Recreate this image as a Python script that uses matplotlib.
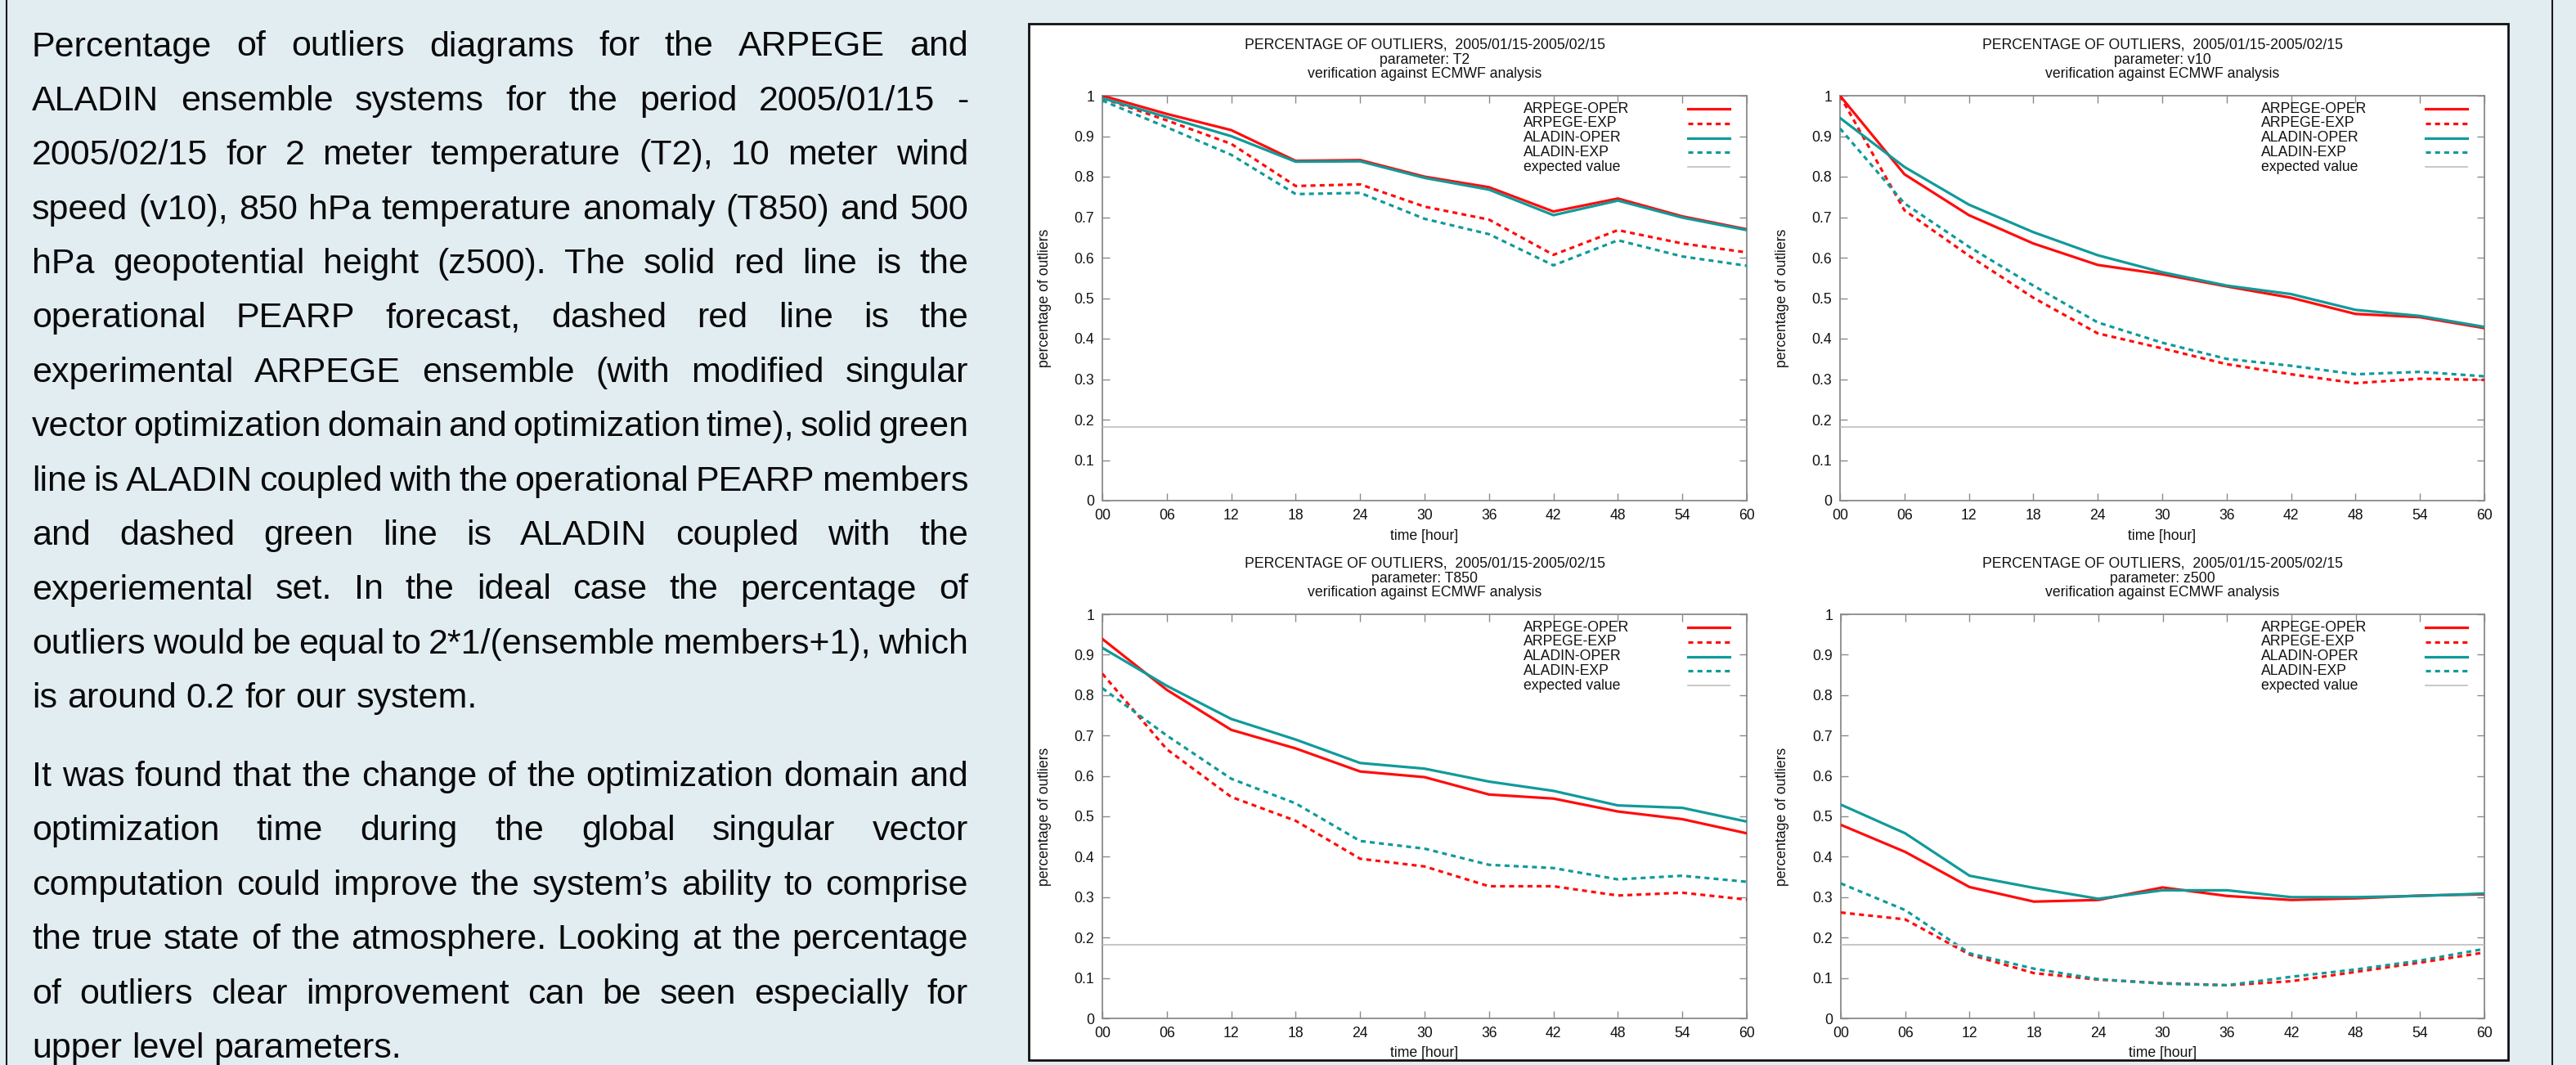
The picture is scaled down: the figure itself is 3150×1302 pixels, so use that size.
import matplotlib
matplotlib.use('Agg')
import matplotlib.pyplot as plt
from matplotlib.patches import Rectangle
from matplotlib.lines import Line2D

# ---------------- data ----------------
hours = [0, 6, 12, 18, 24, 30, 36, 42, 48, 54, 60]
hour_labels = ['00', '06', '12', '18', '24', '30', '36', '42', '48', '54', '60']
y_ticks = [0, 0.1, 0.2, 0.3, 0.4, 0.5, 0.6, 0.7, 0.8, 0.9, 1.0]
y_labels = ['0', '0.1', '0.2', '0.3', '0.4', '0.5', '0.6', '0.7', '0.8', '0.9', '1']
series_names = ['ARPEGE-OPER', 'ARPEGE-EXP', 'ALADIN-OPER', 'ALADIN-EXP']
expected_value = 2.0 / 11.0
parameters = ['T2', 'v10', 'T850', 'z500']

t2_arpege_oper = [1.000, 0.955, 0.915, 0.839, 0.841, 0.800, 0.774, 0.714, 0.746, 0.702, 0.670]
t2_arpege_exp = [0.994, 0.939, 0.881, 0.777, 0.781, 0.726, 0.694, 0.607, 0.668, 0.635, 0.613]
t2_aladin_oper = [0.994, 0.947, 0.900, 0.837, 0.838, 0.797, 0.768, 0.705, 0.741, 0.699, 0.668]
t2_aladin_exp = [0.988, 0.922, 0.854, 0.757, 0.760, 0.696, 0.658, 0.581, 0.643, 0.603, 0.580]

v10_arpege_oper = [1.000, 0.806, 0.705, 0.635, 0.582, 0.559, 0.529, 0.501, 0.461, 0.453, 0.426]
v10_arpege_exp = [1.000, 0.717, 0.605, 0.501, 0.413, 0.376, 0.337, 0.312, 0.290, 0.301, 0.298]
v10_aladin_oper = [0.945, 0.824, 0.731, 0.663, 0.606, 0.564, 0.531, 0.510, 0.471, 0.456, 0.429]
v10_aladin_exp = [0.919, 0.734, 0.627, 0.531, 0.440, 0.390, 0.350, 0.333, 0.312, 0.318, 0.307]

t850_arpege_oper = [0.939, 0.813, 0.714, 0.668, 0.611, 0.597, 0.554, 0.544, 0.512, 0.493, 0.458]
t850_arpege_exp = [0.853, 0.666, 0.548, 0.489, 0.395, 0.376, 0.327, 0.327, 0.304, 0.311, 0.294]
t850_aladin_oper = [0.917, 0.823, 0.741, 0.690, 0.632, 0.618, 0.586, 0.563, 0.527, 0.521, 0.487]
t850_aladin_exp = [0.817, 0.700, 0.593, 0.532, 0.439, 0.420, 0.380, 0.372, 0.344, 0.353, 0.338]

z500_arpege_oper = [0.479, 0.412, 0.325, 0.289, 0.293, 0.324, 0.303, 0.293, 0.297, 0.304, 0.307]
z500_arpege_exp = [0.262, 0.245, 0.158, 0.112, 0.096, 0.087, 0.082, 0.092, 0.115, 0.138, 0.163]
z500_aladin_oper = [0.529, 0.458, 0.353, 0.323, 0.296, 0.317, 0.317, 0.300, 0.300, 0.303, 0.309]
z500_aladin_exp = [0.334, 0.268, 0.161, 0.123, 0.097, 0.086, 0.082, 0.103, 0.121, 0.143, 0.172]

panel_data = {
    'T2': [t2_arpege_oper, t2_arpege_exp, t2_aladin_oper, t2_aladin_exp],
    'v10': [v10_arpege_oper, v10_arpege_exp, v10_aladin_oper, v10_aladin_exp],
    'T850': [t850_arpege_oper, t850_arpege_exp, t850_aladin_oper, t850_aladin_exp],
    'z500': [z500_arpege_oper, z500_arpege_exp, z500_aladin_oper, z500_aladin_exp],
}

title_line1 = 'PERCENTAGE OF OUTLIERS,  2005/01/15-2005/02/15'
title_line3 = 'verification against ECMWF analysis'

para1 = [
    "Percentage of outliers diagrams for the ARPEGE and",
    "ALADIN ensemble systems for the period 2005/01/15 -",
    "2005/02/15 for 2 meter temperature (T2), 10 meter wind",
    "speed (v10), 850 hPa temperature anomaly (T850) and 500",
    "hPa geopotential height (z500). The solid red line is the",
    "operational PEARP forecast, dashed red line is the",
    "experimental ARPEGE ensemble (with modified singular",
    "vector optimization domain and optimization time), solid green",
    "line is ALADIN coupled with the operational PEARP members",
    "and dashed green line is ALADIN coupled with the",
    "experiemental set. In the ideal case the percentage of",
    "outliers would be equal to 2*1/(ensemble members+1), which",
    "is around 0.2 for our system.",
]
para2 = [
    "It was found that the change of the optimization domain and",
    "optimization time during the global singular vector",
    "computation could improve the system\u2019s ability to comprise",
    "the true state of the atmosphere. Looking at the percentage",
    "of outliers clear improvement can be seen especially for",
    "upper level parameters.",
]

# ---------------- styles ----------------
BG = '#e2edf2'
RED = '#ff0d0d'
TEAL = '#119a9a'
GREY_LINE = '#bdbdbd'
AX_GREY = '#8a8a8a'
FONT = ['Liberation Sans', 'DejaVu Sans']
DASH = (0, (1.9, 1.6))
styles = [
    dict(color=RED, ls='-'),
    dict(color=RED, ls=DASH),
    dict(color=TEAL, ls='-'),
    dict(color=TEAL, ls=DASH),
]

W, H = 3150, 1302
fig = plt.figure(figsize=(W / 100, H / 100), dpi=100, facecolor=BG)


def fx(px):
    return px / W


def fy(py):
    return 1 - py / H


# outer frame lines
for xline in (8, 3121):
    fig.add_artist(Line2D([fx(xline), fx(xline)], [0, 1], color='#1a1a1a', lw=1.5,
                          transform=fig.transFigure))

# white panel
fig.add_artist(Rectangle((fx(1258), fy(1296)), fx(3067) - fx(1258), fy(29) - fy(1296),
                         facecolor='white', edgecolor='#111111', lw=2.0,
                         transform=fig.transFigure, zorder=-5))

# ---------------- body text (justified) ----------------
renderer = fig.canvas.get_renderer()
TXT_SIZE = 31
LEFT, RIGHT = 39, 1184


def measure(s):
    t = fig.text(0, 0, s, fontsize=TXT_SIZE, family=FONT)
    w = t.get_window_extent(renderer).width
    t.remove()
    return w


space_w = measure('a a') - measure('aa')


def draw_paragraph(lines, base0, step):
    for i, line in enumerate(lines):
        y = base0 + i * step
        words = line.split(' ')
        widths = [measure(w) for w in words]
        last = (i == len(lines) - 1)
        if last or len(words) == 1:
            gap = space_w
        else:
            gap = (RIGHT - LEFT - sum(widths)) / (len(words) - 1)
        x = LEFT
        for w, wd in zip(words, widths):
            fig.text(fx(x), fy(y), w, fontsize=TXT_SIZE, family=FONT, color='#0a0a0a',
                     ha='left', va='baseline')
            x += wd + gap


draw_paragraph(para1, 68.5, 66.4)
draw_paragraph(para2, 961, 66.4)

# ---------------- plots ----------------
PLOT_FS = 12.7
boxes = {
    'T2': (1348, 2136, 117, 612),
    'v10': (2250, 3038, 117, 612),
    'T850': (1348, 2136, 751, 1245),
    'z500': (2251, 3038, 751, 1245),
}

for param in parameters:
    l, r, t, b = boxes[param]
    ax = fig.add_axes([fx(l), fy(b), fx(r) - fx(l), fy(t) - fy(b)])
    ax.set_facecolor('white')
    hpx = b - t
    for vals, name, st in zip(panel_data[param], series_names, styles):
        ax.plot(hours, vals, color=st['color'], ls=st['ls'], lw=2.3,
                solid_joinstyle='miter', dash_capstyle='butt', zorder=3)
    ax.axhline(expected_value, color=GREY_LINE, lw=1.2, zorder=4)

    ax.set_xlim(0, 60)
    ax.set_ylim(0, 1)
    ax.set_xticks(hours)
    ax.set_xticklabels(hour_labels)
    ax.set_yticks(y_ticks)
    ax.set_yticklabels(y_labels)
    ax.tick_params(direction='in', length=6.5, width=1.0, color=AX_GREY,
                   top=True, right=True, labelsize=PLOT_FS, pad=7, labelcolor='#111111')
    for lab in ax.get_xticklabels() + ax.get_yticklabels():
        lab.set_family(FONT)
    for sp in ax.spines.values():
        sp.set_color(AX_GREY)
        sp.set_linewidth(1.3)

    ax.set_xlabel('time [hour]', fontsize=PLOT_FS, family=FONT, color='#111111', va='center')
    ax.xaxis.set_label_coords(0.5, -43 / hpx)
    ax.set_ylabel('percentage of outliers', fontsize=PLOT_FS, family=FONT, color='#111111',
                  va='center')
    ax.yaxis.set_label_coords(-71 / (r - l), 0.5)

    # three-line title
    for off, txt in zip((62.5, 43.5, 26.5),
                        (title_line1, 'parameter: ' + param, title_line3)):
        ax.text(0.5, 1 + off / hpx, txt, transform=ax.transAxes, ha='center', va='center',
                fontsize=PLOT_FS, family=FONT, color='#111111')

    # key (gnuplot style: text left, sample right)
    key_names = series_names + ['expected value']
    key_styles = styles + [dict(color=GREY_LINE, ls='-')]
    for k, (name, st) in enumerate(zip(key_names, key_styles)):
        yk = 1 - (16 + 17.8 * k) / hpx
        ax.text(0.6535, yk, name, transform=ax.transAxes, ha='left', va='center',
                fontsize=PLOT_FS, family=FONT, color='#111111')
        lw = 1.2 if k == 4 else 2.3
        ax.add_line(Line2D([0.909, 0.9735], [yk, yk], transform=ax.transAxes,
                           color=st['color'], ls=st['ls'], lw=lw, dash_capstyle='butt'))

fig.savefig('out.png', dpi=100, facecolor=BG)
